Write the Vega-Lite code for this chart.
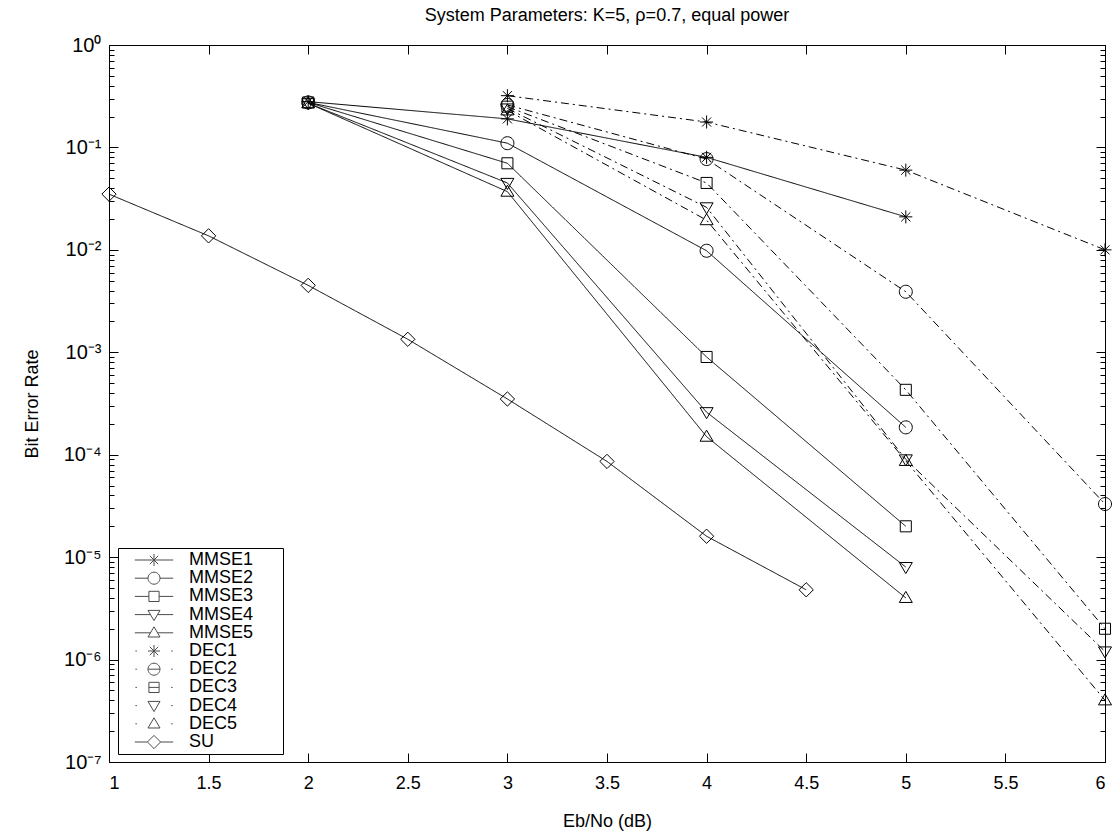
{
  "$schema": "https://vega.github.io/schema/vega-lite/v6.json",
  "width": 996,
  "height": 717,
  "autosize": {"type": "none"},
  "padding": {"left": 109, "top": 45, "right": 9, "bottom": 73},
  "background": "white",
  "title": {"text": "System Parameters: K=5, ρ=0.7, equal power", "font": "Liberation Sans", "fontSize": 18, "fontWeight": "normal", "color": "black", "anchor": "middle", "offset": 10},
  "config": {
    "view": {"stroke": "black", "strokeWidth": 1},
    "font": "Liberation Sans",
    "axis": {"domain": false, "grid": false, "labelFont": "Liberation Sans", "labelColor": "black", "titleFont": "Liberation Sans", "titleColor": "black", "titleFontWeight": "normal", "tickColor": "black", "tickWidth": 1}
  },
  "data": {"values": [
    {"series": "MMSE1", "detector": "MMSE", "x": 2, "ber": 0.28},
    {"series": "MMSE1", "detector": "MMSE", "x": 3, "ber": 0.19},
    {"series": "MMSE1", "detector": "MMSE", "x": 4, "ber": 0.08},
    {"series": "MMSE1", "detector": "MMSE", "x": 5, "ber": 0.021},
    {"series": "MMSE2", "detector": "MMSE", "x": 2, "ber": 0.275},
    {"series": "MMSE2", "detector": "MMSE", "x": 3, "ber": 0.11},
    {"series": "MMSE2", "detector": "MMSE", "x": 4, "ber": 0.0098},
    {"series": "MMSE2", "detector": "MMSE", "x": 5, "ber": 0.000185},
    {"series": "MMSE3", "detector": "MMSE", "x": 2, "ber": 0.275},
    {"series": "MMSE3", "detector": "MMSE", "x": 3, "ber": 0.07},
    {"series": "MMSE3", "detector": "MMSE", "x": 4, "ber": 0.0009},
    {"series": "MMSE3", "detector": "MMSE", "x": 5, "ber": 0.00002},
    {"series": "MMSE4", "detector": "MMSE", "x": 2, "ber": 0.27},
    {"series": "MMSE4", "detector": "MMSE", "x": 3, "ber": 0.045},
    {"series": "MMSE4", "detector": "MMSE", "x": 4, "ber": 0.00026},
    {"series": "MMSE4", "detector": "MMSE", "x": 5, "ber": 0.000008},
    {"series": "MMSE5", "detector": "MMSE", "x": 2, "ber": 0.27},
    {"series": "MMSE5", "detector": "MMSE", "x": 3, "ber": 0.037},
    {"series": "MMSE5", "detector": "MMSE", "x": 4, "ber": 0.00015},
    {"series": "MMSE5", "detector": "MMSE", "x": 5, "ber": 0.000004},
    {"series": "DEC1", "detector": "DEC", "x": 3, "ber": 0.32},
    {"series": "DEC1", "detector": "DEC", "x": 4, "ber": 0.177},
    {"series": "DEC1", "detector": "DEC", "x": 5, "ber": 0.06},
    {"series": "DEC1", "detector": "DEC", "x": 6, "ber": 0.01},
    {"series": "DEC2", "detector": "DEC", "x": 3, "ber": 0.26},
    {"series": "DEC2", "detector": "DEC", "x": 4, "ber": 0.077},
    {"series": "DEC2", "detector": "DEC", "x": 5, "ber": 0.0039},
    {"series": "DEC2", "detector": "DEC", "x": 6, "ber": 0.000033},
    {"series": "DEC3", "detector": "DEC", "x": 3, "ber": 0.25},
    {"series": "DEC3", "detector": "DEC", "x": 4, "ber": 0.045},
    {"series": "DEC3", "detector": "DEC", "x": 5, "ber": 0.00043},
    {"series": "DEC3", "detector": "DEC", "x": 6, "ber": 0.000002},
    {"series": "DEC4", "detector": "DEC", "x": 3, "ber": 0.24},
    {"series": "DEC4", "detector": "DEC", "x": 4, "ber": 0.026},
    {"series": "DEC4", "detector": "DEC", "x": 5, "ber": 0.00009},
    {"series": "DEC4", "detector": "DEC", "x": 6, "ber": 0.0000012},
    {"series": "DEC5", "detector": "DEC", "x": 3, "ber": 0.23},
    {"series": "DEC5", "detector": "DEC", "x": 4, "ber": 0.0195},
    {"series": "DEC5", "detector": "DEC", "x": 5, "ber": 0.000087},
    {"series": "DEC5", "detector": "DEC", "x": 6, "ber": 0.0000004},
    {"series": "SU", "detector": "SU", "x": 1, "ber": 0.035},
    {"series": "SU", "detector": "SU", "x": 1.5, "ber": 0.0137},
    {"series": "SU", "detector": "SU", "x": 2, "ber": 0.0045},
    {"series": "SU", "detector": "SU", "x": 2.5, "ber": 0.00134},
    {"series": "SU", "detector": "SU", "x": 3, "ber": 0.00035},
    {"series": "SU", "detector": "SU", "x": 3.5, "ber": 0.000086},
    {"series": "SU", "detector": "SU", "x": 4, "ber": 0.000016},
    {"series": "SU", "detector": "SU", "x": 4.5, "ber": 0.0000048}
  ]},
  "resolve": {"axis": {"x": "independent", "y": "independent"}, "scale": {"shape": "independent"}},
  "layer": [
    {
      "mark": {"type": "line", "color": "black", "strokeWidth": 1},
      "encoding": {
        "x": {"field": "x", "type": "quantitative", "scale": {"domain": [1, 6], "nice": false, "zero": false},
          "axis": {"orient": "bottom", "values": [1, 1.5, 2, 2.5, 3, 3.5, 4, 4.5, 5, 5.5, 6], "ticks": false, "labelPadding": 12, "labelFontSize": 18, "labelExpr": "'' + datum.value", "title": "Eb/No (dB)", "titleFontSize": 18, "titlePadding": 20}},
        "y": {"field": "ber", "type": "quantitative", "scale": {"type": "log", "domain": [1e-7, 1], "nice": false},
          "axis": {"orient": "left", "values": [1e-7, 1e-6, 1e-5, 1e-4, 0.001, 0.01, 0.1, 1], "ticks": false, "labelPadding": 8, "labelFontSize": 20, "labelExpr": "['10⁰','10⁻¹','10⁻²','10⁻³','10⁻⁴','10⁻⁵','10⁻⁶','10⁻⁷'][round(-log(datum.value)/LN10)]", "title": "Bit Error Rate", "titleFontSize": 18, "titlePadding": 22}},
        "detail": {"field": "series"},
        "strokeDash": {"field": "detector", "type": "nominal", "scale": {"domain": ["MMSE", "DEC", "SU"], "range": [[1, 0], [8, 4, 2, 4], [1, 0]]}, "legend": null}
      }
    },
    {
      "mark": {"type": "point", "filled": false, "color": "black", "strokeWidth": 1, "size": 169, "opacity": 1},
      "encoding": {
        "x": {"field": "x", "type": "quantitative", "scale": {"domain": [1, 6], "nice": false, "zero": false},
          "axis": {"orient": "bottom", "values": [1, 1.5, 2, 2.5, 3, 3.5, 4, 4.5, 5, 5.5, 6], "labels": false, "tickSize": -9, "title": null}},
        "y": {"field": "ber", "type": "quantitative", "scale": {"type": "log", "domain": [1e-7, 1], "nice": false},
          "axis": {"orient": "left", "labels": false, "title": null,
            "values": [1e-7,2e-7,3e-7,4e-7,5e-7,6e-7,7e-7,8e-7,9e-7,1e-6,2e-6,3e-6,4e-6,5e-6,6e-6,7e-6,8e-6,9e-6,1e-5,2e-5,3e-5,4e-5,5e-5,6e-5,7e-5,8e-5,9e-5,1e-4,2e-4,3e-4,4e-4,5e-4,6e-4,7e-4,8e-4,9e-4,0.001,0.002,0.003,0.004,0.005,0.006,0.007,0.008,0.009,0.01,0.02,0.03,0.04,0.05,0.06,0.07,0.08,0.09,0.1,0.2,0.3,0.4,0.5,0.6,0.7,0.8,0.9,1],
            "tickSize": {"condition": {"test": "abs(log(datum.value)/LN10 - round(log(datum.value)/LN10)) < 0.001", "value": -9}, "value": -5}}},
        "shape": {"field": "series", "type": "nominal", "legend": null,
          "scale": {"domain": ["MMSE1", "MMSE2", "MMSE3", "MMSE4", "MMSE5", "DEC1", "DEC2", "DEC3", "DEC4", "DEC5", "SU"],
            "range": [
              "M0,-1L0,1M-1,0L1,0M-0.7,-0.7L0.7,0.7M-0.7,0.7L0.7,-0.7",
              "M1,0A1,1,0,1,1,-1,0A1,1,0,1,1,1,0Z",
              "M-0.85,-0.85L0.85,-0.85L0.85,0.85L-0.85,0.85Z",
              "M-1,-0.7L1,-0.7L0,1Z",
              "M-1,0.7L1,0.7L0,-1Z",
              "M0,-1L0,1M-1,0L1,0M-0.7,-0.7L0.7,0.7M-0.7,0.7L0.7,-0.7",
              "M1,0A1,1,0,1,1,-1,0A1,1,0,1,1,1,0Z",
              "M-0.85,-0.85L0.85,-0.85L0.85,0.85L-0.85,0.85Z",
              "M-1,-0.7L1,-0.7L0,1Z",
              "M-1,0.7L1,0.7L0,-1Z",
              "M0,-1.1L1.1,0L0,1.1L-1.1,0Z"
            ]}}
      }
    },
    {
      "transform": [{"filter": "false"}],
      "mark": {"type": "point", "filled": false, "color": "black", "strokeWidth": 1},
      "encoding": {
        "x": {"field": "x", "type": "quantitative", "scale": {"domain": [1, 6], "nice": false, "zero": false},
          "axis": {"orient": "top", "values": [1, 1.5, 2, 2.5, 3, 3.5, 4, 4.5, 5, 5.5, 6], "labels": false, "tickSize": -9, "title": null}},
        "y": {"field": "ber", "type": "quantitative", "scale": {"type": "log", "domain": [1e-7, 1], "nice": false},
          "axis": {"orient": "right", "labels": false, "title": null,
            "values": [1e-7,2e-7,3e-7,4e-7,5e-7,6e-7,7e-7,8e-7,9e-7,1e-6,2e-6,3e-6,4e-6,5e-6,6e-6,7e-6,8e-6,9e-6,1e-5,2e-5,3e-5,4e-5,5e-5,6e-5,7e-5,8e-5,9e-5,1e-4,2e-4,3e-4,4e-4,5e-4,6e-4,7e-4,8e-4,9e-4,0.001,0.002,0.003,0.004,0.005,0.006,0.007,0.008,0.009,0.01,0.02,0.03,0.04,0.05,0.06,0.07,0.08,0.09,0.1,0.2,0.3,0.4,0.5,0.6,0.7,0.8,0.9,1],
            "tickSize": {"condition": {"test": "abs(log(datum.value)/LN10 - round(log(datum.value)/LN10)) < 0.001", "value": -9}, "value": -5}}},
        "shape": {"field": "series", "type": "nominal",
          "scale": {"domain": ["MMSE1", "MMSE2", "MMSE3", "MMSE4", "MMSE5", "DEC1", "DEC2", "DEC3", "DEC4", "DEC5", "SU"],
            "range": [
              "M-3.2,0L3.2,0M0,-1L0,1M-0.7,-0.7L0.7,0.7M-0.7,0.7L0.7,-0.7",
              "M-3.2,0L-1,0M1,0L3.2,0M1,0A1,1,0,1,1,-1,0A1,1,0,1,1,1,0Z",
              "M-3.2,0L-0.85,0M0.85,0L3.2,0M-0.85,-0.85L0.85,-0.85L0.85,0.85L-0.85,0.85Z",
              "M-3.2,0L-0.6,0M0.6,0L3.2,0M-1,-0.7L1,-0.7L0,1Z",
              "M-3.2,0L-0.6,0M0.6,0L3.2,0M-1,0.7L1,0.7L0,-1Z",
              "M-3.1,0L-2.85,0M2.85,0L3.1,0M0,-1L0,1M-1,0L1,0M-0.7,-0.7L0.7,0.7M-0.7,0.7L0.7,-0.7",
              "M-3.1,0L-2.85,0M2.85,0L3.1,0M-1,0L1,0M1,0A1,1,0,1,1,-1,0A1,1,0,1,1,1,0Z",
              "M-3.1,0L-2.85,0M2.85,0L3.1,0M-0.85,0L0.85,0M-0.85,-0.85L0.85,-0.85L0.85,0.85L-0.85,0.85Z",
              "M-3.1,0L-2.85,0M2.85,0L3.1,0M-1,-0.7L1,-0.7L0,1Z",
              "M-3.1,0L-2.85,0M2.85,0L3.1,0M-1,0.7L1,0.7L0,-1Z",
              "M-3.2,0L-1.1,0M1.1,0L3.2,0M0,-1.1L1.1,0L0,1.1L-1.1,0Z"
            ]},
          "legend": {"orient": "none", "legendX": 9, "legendY": 503, "title": null, "fillColor": "white", "strokeColor": "black", "padding": 3,
            "symbolSize": 144, "symbolStrokeColor": "black", "symbolFillColor": "transparent", "symbolStrokeWidth": 1, "symbolOffset": 24,
            "labelOffset": 26, "labelFontSize": 18, "labelFont": "Liberation Sans", "labelColor": "black", "labelExpr": "datum.label + '\u2800\u2800'", "rowPadding": 0.2}}
      }
    }
  ]
}
